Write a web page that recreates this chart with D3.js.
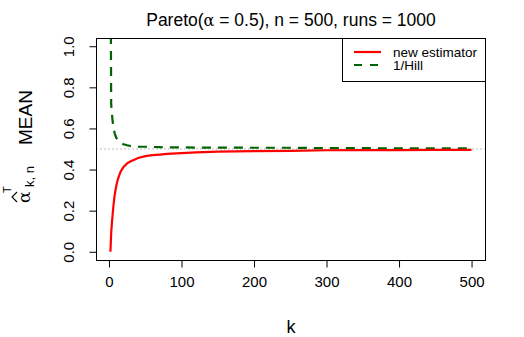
<!DOCTYPE html>
<html>
<head>
<meta charset="utf-8">
<script src="https://cdn.jsdelivr.net/npm/d3@7"></script>
<style>
body { margin: 0; background: #fff; }
text { font-family: "Liberation Sans", Arial, sans-serif; fill: #000; }
</style>
</head>
<body>
<div class="chart"></div>
<script>
// k values and the two mean curves
var kValues = [2, 3, 4, 5, 6, 7, 8, 10, 12, 14, 16, 20, 25, 30, 35, 40, 50, 60, 70, 80, 100, 120, 150, 200, 250, 300, 350, 400, 450, 500];
var newEstimator = [0.0, 0.09, 0.14, 0.18, 0.22, 0.25, 0.28, 0.32, 0.35, 0.37, 0.39, 0.413, 0.43, 0.44, 0.448, 0.456, 0.465, 0.47, 0.473, 0.476, 0.48, 0.484, 0.487, 0.49, 0.491, 0.494, 0.495, 0.495, 0.496, 0.496];
var invHill = [1.6, 0.72, 0.675, 0.635, 0.61, 0.59, 0.575, 0.555, 0.545, 0.535, 0.53, 0.523, 0.518, 0.514, 0.512, 0.511, 0.511, 0.51, 0.509, 0.508, 0.508, 0.507, 0.507, 0.506, 0.506, 0.504, 0.504, 0.503, 0.503, 0.503];
var xTicks = [0, 100, 200, 300, 400, 500];
var yTicks = [0, 0.2, 0.4, 0.6, 0.8, 1.0];
var legendLabels = ["new estimator", "1/Hill"];
var refLine = 0.5;

var width = 524,
	height = 337;

var plotLeft = 96, plotRight = 486, plotTop = 38, plotBottom = 260;

var kMin = d3.min(kValues), kMax = d3.max(kValues);
var pad = 0.04 * (kMax - kMin);

var x = d3.scaleLinear()
	.domain([kMin - pad, kMax + pad])
	.range([plotLeft, plotRight]);

var y = d3.scaleLinear()
	.domain([-0.04, 1.04])
	.range([plotBottom, plotTop]);

var svg = d3.select(".chart").append("svg")
	.attr("width", width)
	.attr("height", height);

svg.append("defs").append("clipPath")
	.attr("id", "plotClip")
	.append("rect")
	.attr("x", plotLeft)
	.attr("y", plotTop)
	.attr("width", plotRight - plotLeft)
	.attr("height", plotBottom - plotTop);

// title
var title = svg.append("text")
	.attr("x", (plotLeft + plotRight) / 2)
	.attr("y", 26)
	.attr("text-anchor", "middle")
	.style("font-size", "17.5px");
title.append("tspan").text("Pareto(");
title.append("tspan").style("font-family", "'DejaVu Serif', serif").style("font-size", "16px").text("α");
title.append("tspan").text(" = 0.5), n = 500, runs = 1000");

var plot = svg.append("g").attr("clip-path", "url(#plotClip)");

// reference line at 0.5
plot.append("line")
	.attr("x1", plotLeft)
	.attr("x2", plotRight)
	.attr("y1", y(refLine))
	.attr("y2", y(refLine))
	.attr("stroke", "#bebebe")
	.attr("stroke-width", 1)
	.attr("stroke-dasharray", "2,2");

var line = d3.line()
	.x(function(d) { return x(d[0]); })
	.y(function(d) { return y(d[1]); });

plot.append("path")
	.datum(kValues.map(function(k, i) { return [k, invHill[i]]; }))
	.attr("d", line)
	.attr("fill", "none")
	.attr("stroke", "#006400")
	.attr("stroke-width", 2.2)
	.attr("stroke-dasharray", "9,7");

plot.append("path")
	.datum(kValues.map(function(k, i) { return [k, newEstimator[i]]; }))
	.attr("d", line)
	.attr("fill", "none")
	.attr("stroke", "#ff0000")
	.attr("stroke-width", 2.2);

// box
svg.append("rect")
	.attr("x", plotLeft + 0.5)
	.attr("y", plotTop + 0.5)
	.attr("width", plotRight - plotLeft - 1)
	.attr("height", plotBottom - plotTop)
	.attr("fill", "none")
	.attr("stroke", "#000");

// x axis
var xAxis = svg.append("g")
	.attr("transform", "translate(0," + (plotBottom + 0.5) + ")")
	.call(d3.axisBottom(x).tickValues(xTicks).tickSize(7).tickPadding(9).tickSizeOuter(0));
xAxis.select(".domain").remove();
xAxis.selectAll("text").style("font-size", "15px").style("font-family", "'Liberation Sans', Arial, sans-serif");

// y axis
var yAxis = svg.append("g")
	.attr("transform", "translate(" + (plotLeft + 0.5) + ",0)")
	.call(d3.axisLeft(y).tickValues(yTicks).tickFormat(d3.format(".1f")).tickSize(7).tickSizeOuter(0));
yAxis.select(".domain").remove();
yAxis.selectAll("text")
	.style("font-size", "15px")
	.style("font-family", "'Liberation Sans', Arial, sans-serif")
	.attr("x", null)
	.attr("dy", null)
	.attr("text-anchor", "middle")
	.attr("transform", "translate(-23,0) rotate(-90)");

// x label
svg.append("text")
	.attr("x", (plotLeft + plotRight) / 2)
	.attr("y", 333)
	.attr("text-anchor", "middle")
	.style("font-size", "18px")
	.text("k");

// y label: hat alpha^T_{k,n}  MEAN
var ylab = svg.append("g").attr("transform", "translate(30,203) rotate(-90)");
ylab.append("text")
	.attr("x", 0).attr("y", 0)
	.style("font-family", "'DejaVu Serif', serif")
	.style("font-size", "17px")
	.text("α");
ylab.append("path")
	.attr("d", "M1,-13L6,-18L11,-13")
	.attr("fill", "none")
	.attr("stroke", "#000")
	.attr("stroke-width", 1.1);
ylab.append("text")
	.attr("x", 10).attr("y", -19)
	.style("font-size", "11px")
	.text("T");
ylab.append("text")
	.attr("x", 16).attr("y", 4)
	.style("font-size", "13px")
	.text("k, n");
ylab.append("text")
	.attr("x", 58).attr("y", 1.5)
	.style("font-size", "19px")
	.text("MEAN");

// legend
var lg = svg.append("g");
lg.append("rect")
	.attr("x", 342.5)
	.attr("y", plotTop + 0.5)
	.attr("width", plotRight - 342.5 - 0.5)
	.attr("height", 43)
	.attr("fill", "#fff")
	.attr("stroke", "#000");
var legendColors = ["#ff0000", "#006400"];
var legendDash = [null, "8,8"];
legendLabels.forEach(function(lab, i) {
	var ly = 52 + i * 13;
	lg.append("line")
		.attr("x1", 354).attr("x2", 381)
		.attr("y1", ly).attr("y2", ly)
		.attr("stroke", legendColors[i])
		.attr("stroke-width", 2.2)
		.attr("stroke-dasharray", legendDash[i]);
	lg.append("text")
		.attr("x", 393)
		.attr("y", ly + 5)
		.style("font-size", "13.5px")
		.text(lab);
});
</script>
</body>
</html>
